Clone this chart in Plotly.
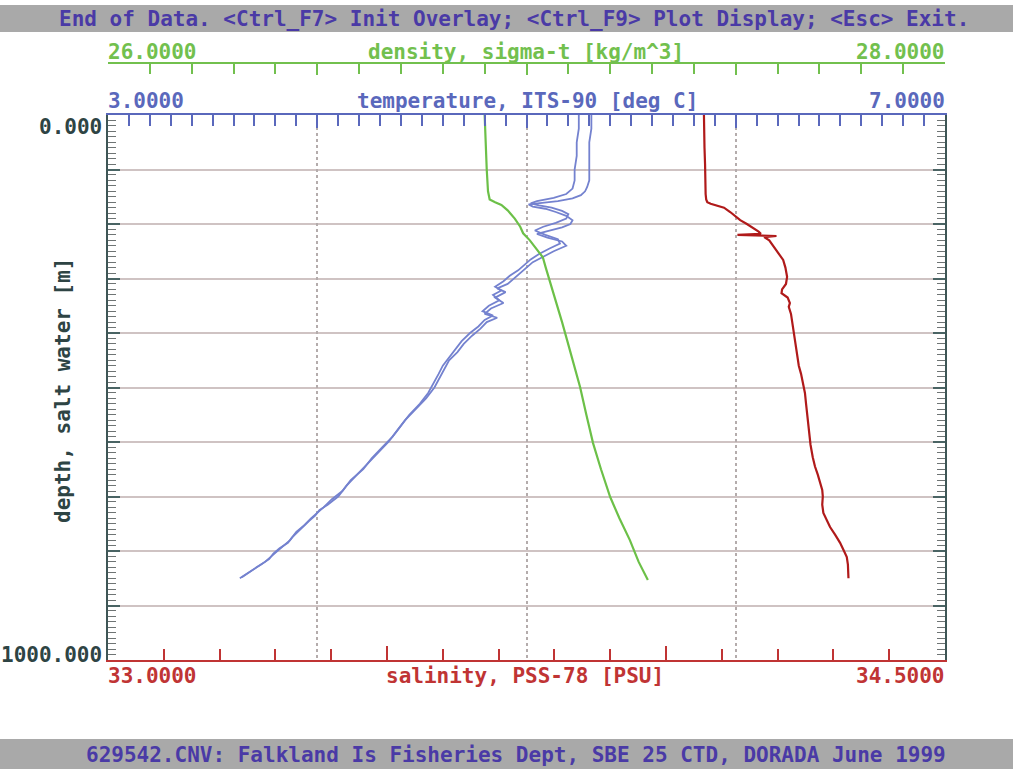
import plotly.graph_objects as go

# ---- CTD profile data (depth in metres) ----
depth_t1 = [0, 25, 50, 75, 100, 120, 132, 140, 147, 153, 158, 161, 164, 168, 172,
            178, 185, 193, 200, 206, 212, 218, 225, 232, 240, 250, 260, 270, 280, 290,
            300, 310, 318, 325, 335, 345, 355, 365, 372, 380, 392, 405, 420, 435, 450,
            465, 480, 500, 520, 540, 560, 580, 600, 620, 640, 660, 680, 700, 715, 725,
            735, 745, 760, 775, 785, 795, 805, 815, 825, 835, 845, 850]
temp_t1 = [5.31, 5.31, 5.30, 5.30, 5.30, 5.30, 5.29, 5.28, 5.26, 5.22, 5.15, 5.07, 5.01, 5.03, 5.09,
           5.14, 5.19, 5.22, 5.21, 5.17, 5.11, 5.05, 5.10, 5.17, 5.19, 5.13, 5.08, 5.03, 5.00, 4.97,
           4.94, 4.91, 4.86, 4.90, 4.85, 4.89, 4.83, 4.80, 4.86, 4.81, 4.78, 4.74, 4.70, 4.67, 4.63,
           4.61, 4.59, 4.56, 4.52, 4.47, 4.42, 4.38, 4.34, 4.29, 4.24, 4.19, 4.14, 4.10, 4.05, 4.01,
           3.99, 3.96, 3.92, 3.88, 3.86, 3.82, 3.79, 3.77, 3.73, 3.69, 3.65, 3.63]

depth_t2 = [0, 25, 50, 75, 100, 120, 135, 145, 152, 158, 162, 166, 170, 176, 182,
            190, 198, 205, 212, 220, 228, 236, 245, 255, 265, 275, 285, 295, 305, 315,
            322, 330, 340, 350, 360, 368, 376, 388, 400, 415, 430, 445, 460, 475, 490,
            510, 530, 550, 570, 590, 610, 630, 650, 670, 690, 705, 720, 730, 740, 752,
            765, 780, 790, 800, 810, 820, 830, 840, 848]
temp_t2 = [5.25, 5.25, 5.24, 5.24, 5.23, 5.23, 5.22, 5.19, 5.13, 5.05, 5.02, 5.06, 5.12, 5.17, 5.20,
           5.19, 5.14, 5.08, 5.04, 5.09, 5.15, 5.16, 5.11, 5.06, 5.02, 4.99, 4.96, 4.92, 4.89, 4.85,
           4.88, 4.84, 4.87, 4.82, 4.79, 4.84, 4.80, 4.77, 4.73, 4.69, 4.66, 4.63, 4.60, 4.58, 4.56,
           4.53, 4.49, 4.44, 4.40, 4.36, 4.31, 4.26, 4.22, 4.16, 4.12, 4.07, 4.03, 4.00, 3.97, 3.94,
           3.90, 3.87, 3.84, 3.81, 3.78, 3.75, 3.71, 3.67, 3.64]

depth_s = [0, 30, 60, 90, 120, 145, 155, 160, 163, 166, 170, 178, 185, 193, 200,
           208, 214, 218, 220, 222, 224, 230, 240, 252, 266, 280, 297, 310, 320, 327,
           335, 345, 352, 365, 380, 394, 410, 430, 444, 460, 475, 492, 510, 530, 550,
           565, 585, 605, 628, 645, 660, 675, 688, 700, 715, 730, 740, 756, 770, 785,
           800, 811, 825, 840, 850]
salinity = [34.068, 34.068, 34.069, 34.070, 34.070, 34.071, 34.072, 34.074, 34.080, 34.092,
            34.104, 34.115, 34.124, 34.133, 34.145, 34.158, 34.166, 34.170, 34.128, 34.198,
            34.176, 34.185, 34.192, 34.200, 34.210, 34.214, 34.217, 34.215, 34.208, 34.207,
            34.218, 34.222, 34.220, 34.224, 34.226, 34.228, 34.230, 34.233, 34.235, 34.238,
            34.242, 34.246, 34.249, 34.251, 34.253, 34.255, 34.257, 34.259, 34.263, 34.267,
            34.272, 34.276, 34.280, 34.281, 34.280, 34.282, 34.287, 34.294, 34.303, 34.312,
            34.319, 34.324, 34.326, 34.326, 34.327]

depth_d = [0, 50, 100, 140, 155, 160, 165, 175, 190, 205, 217, 230, 245, 261, 280,
           300, 325, 352, 380, 413, 450, 499, 550, 602, 650, 701, 740, 780, 820, 853]
density = [26.900, 26.902, 26.905, 26.908, 26.912, 26.925, 26.940, 26.955, 26.972, 26.985,
           26.992, 27.008, 27.024, 27.039, 27.046, 27.054, 27.063, 27.073, 27.085, 27.097,
           27.111, 27.128, 27.143, 27.159, 27.178, 27.200, 27.222, 27.247, 27.268, 27.290]

# axis ranges and captions
sal_range = [33.0, 34.5]
temp_range = [3.0, 7.0]
dens_range = [26.0, 28.0]
depth_range = [1000, 0]

W, H = 1013, 769
FONT = "DejaVu Sans Mono"
RED, BLUE, GREEN = "#c03434", "#5a68bc", "#72c04e"
TXT = "#4a3aa6"
DARK = "#2e4444"


def px(x):
    return x / W


def py(y):
    return 1 - y / H


plot_x = [px(108), px(945)]
plot_y = [py(660), py(115)]

fig = go.Figure()

fig.add_trace(go.Scatter(x=salinity, y=depth_s, xaxis="x", yaxis="y", mode="lines",
                         line=dict(color="#b01a1a", width=2.2), hoverinfo="skip"))
fig.add_trace(go.Scatter(x=temp_t1, y=depth_t1, xaxis="x2", yaxis="y", mode="lines",
                         line=dict(color="#7482cf", width=1.8), hoverinfo="skip"))
fig.add_trace(go.Scatter(x=temp_t2, y=depth_t2, xaxis="x2", yaxis="y", mode="lines",
                         line=dict(color="#7482cf", width=1.8), hoverinfo="skip"))
fig.add_trace(go.Scatter(x=density, y=depth_d, xaxis="x3", yaxis="y", mode="lines",
                         line=dict(color="#6cc048", width=2.2), hoverinfo="skip"))

fig.update_layout(
    width=W, height=H,
    margin=dict(l=0, r=0, t=0, b=0),
    paper_bgcolor="white", plot_bgcolor="white",
    showlegend=False,
    xaxis=dict(domain=plot_x, range=sal_range, side="bottom", anchor="y",
               showline=True, linecolor=RED, linewidth=2,
               ticks="inside", tick0=33.0, dtick=0.5, ticklen=14, tickwidth=1.5, tickcolor=RED,
               minor=dict(ticks="inside", dtick=0.1, ticklen=11, tickcolor=RED, tickwidth=1.5),
               showticklabels=False, showgrid=False, zeroline=False),
    xaxis2=dict(range=temp_range, overlaying="x", side="top", anchor="y",
                showline=True, linecolor=BLUE, linewidth=2,
                ticks="inside", tick0=3.0, dtick=1.0, ticklen=13, tickwidth=1.5, tickcolor=BLUE,
                minor=dict(ticks="inside", dtick=0.1, ticklen=11, tickcolor=BLUE, tickwidth=1.5),
                showgrid=True, gridcolor="#b4acac", gridwidth=1.5, griddash="dot",
                showticklabels=False, zeroline=False),
    xaxis3=dict(range=dens_range, overlaying="x", side="top", anchor="free", position=py(63),
                showline=True, linecolor=GREEN, linewidth=2,
                ticks="inside", tick0=26.0, dtick=0.5, ticklen=11, tickwidth=1.5, tickcolor=GREEN,
                minor=dict(ticks="inside", dtick=0.1, ticklen=10, tickcolor=GREEN, tickwidth=1.5),
                showgrid=False, showticklabels=False, zeroline=False),
    yaxis=dict(domain=plot_y, range=depth_range, anchor="x",
               showline=True, linecolor="#3e5656", linewidth=2, mirror="ticks",
               ticks="inside", tick0=0, dtick=100, ticklen=12, tickwidth=1.5, tickcolor="#4a6464",
               minor=dict(ticks="inside", dtick=10, ticklen=8, tickcolor="#6e7474", tickwidth=1.4),
               showgrid=True, gridcolor="#cfc3c3", gridwidth=1.5,
               showticklabels=False, zeroline=False),
)

# title bars
fig.add_shape(type="rect", xref="paper", yref="paper", x0=0, x1=1, y0=py(32), y1=py(5),
              fillcolor="#a9a9a9", line=dict(width=0), layer="below")
fig.add_shape(type="rect", xref="paper", yref="paper", x0=0, x1=1, y0=0, y1=py(739),
              fillcolor="#a9a9a9", line=dict(width=0), layer="below")


def label(text, x, y, color, xanchor="center", angle=0, size=21):
    fig.add_annotation(text="<b>" + text + "</b>", x=px(x), y=py(y), xref="paper", yref="paper",
                       xanchor=xanchor, yanchor="middle", showarrow=False, textangle=angle,
                       font=dict(family=FONT, size=size, color=color))


label("End of Data. &lt;Ctrl_F7&gt; Init Overlay; &lt;Ctrl_F9&gt; Plot Display; &lt;Esc&gt; Exit.",
      514, 19, TXT)
label("629542.CNV: Falkland Is Fisheries Dept, SBE 25 CTD, DORADA June 1999", 516, 755, TXT)

# density axis captions
label("26.0000", 106, 52, GREEN, "left")
label("density, sigma-t [kg/m^3]", 526, 52, GREEN)
label("28.0000", 947, 52, GREEN, "right")

# temperature axis captions
label("3.0000", 106, 101, BLUE, "left")
label("temperature, ITS-90 [deg C]", 527, 101, BLUE)
label("7.0000", 947, 101, BLUE, "right")

# salinity axis captions
label("33.0000", 106, 676, RED, "left")
label("salinity, PSS-78 [PSU]", 525, 676, RED)
label("34.5000", 947, 676, RED, "right")

# depth axis captions
label("0.000", 104, 127, DARK, "right")
label("1000.000", 104, 655, DARK, "right")
label("depth, salt water [m]", 63, 390, DARK, angle=-90)

fig.write_html("out.html")
